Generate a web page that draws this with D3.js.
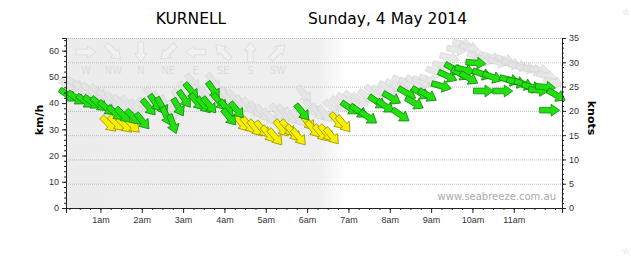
<!DOCTYPE html>
<html>
<head>
<meta charset="utf-8">
<script src="https://cdn.jsdelivr.net/npm/d3@7"></script>
<style>
  html, body { margin: 0; padding: 0; background: #fff; }
  svg { display: block; font-family: "DejaVu Sans", Verdana, sans-serif; }
  .tick text { fill: #333; font-size: 9px; }
  .domain { stroke: #222; }
</style>
</head>
<body>
<svg id="chart" width="631" height="259"></svg>
<script>
// wind observations, km/h, direction the wind comes from (deg)
const greenTimes = ['0:13','0:25','0:38','0:48','0:58','1:09','1:22','1:33','1:48','2:01','2:10','2:20','2:29','2:36','2:45','2:53','3:02','3:12','3:20','3:30','3:38','3:44','3:53','4:03','4:07','4:18',
    '5:53','7:02','7:15','7:29','7:42','7:54','8:03','8:16','8:25','8:36','8:45','8:55','9:15','9:24','9:33','9:43','9:49','9:55','10:05','10:14','10:16','10:29','10:44','10:54','11:04','11:15','11:26','11:36','11:46','11:52','12:02'];
const greenKmh = [43.0,41.9,40.7,40.3,39.6,38.1,36.2,35.4,34.6,33.1,38.4,40.0,38.8,35.0,32.0,38.4,41.5,44.6,40.4,39.2,39.2,44.9,40.4,38.1,34.6,37.3,
    36.5,38.1,36.9,34.6,40.4,38.8,41.9,35.4,43.8,40.0,43.8,43.0,46.5,50.3,53.0,51.1,52.6,49.5,55.3,51.1,44.6,49.9,44.6,48.8,48.0,47.2,46.1,44.9,46.1,37.3,43.0];
const greenDir = [305,305,305,305,310,310,310,315,315,320,320,325,330,335,340,330,325,320,320,320,320,325,320,320,320,320,
    320,305,305,305,305,305,300,305,300,300,300,300,285,295,300,300,285,300,275,290,270,290,270,285,285,290,285,275,275,270,300];

const yellowTimes = ['1:12','1:23','1:35','1:46','4:25','4:35','4:45','4:55','5:04','5:14','5:23','5:32','5:40','5:48','6:01','6:09','6:20','6:28','6:36','6:44','6:53'];
const yellowKmh = [32.0,32.3,31.6,31.6,32.3,31.6,30.4,30.0,28.1,27.0,30.4,30.4,28.5,27.0,32.7,30.0,28.5,28.5,27.4,33.1,32.0];
const yellowDir = [315,315,315,315,320,320,320,320,320,320,320,320,320,320,320,320,320,320,320,320,320];

// gusts
const gustTimes = ['0:13','0:23','0:33','0:45','0:57','1:07','1:19','1:29','1:41','1:52','2:04','2:14','2:24','2:34','2:44','2:54','3:04','3:14','3:24','3:34','3:44','3:54','4:04','4:14','4:26','4:36','4:46','4:56','5:06','5:17','5:27','5:37','5:47','5:56','6:06','6:16','6:26','6:36','6:46','6:56','7:06','7:17','7:27','7:37','7:47','7:57','8:07','8:17','8:27','8:37','8:47','8:57','9:07','9:17','9:27','9:37','9:46','9:56','10:07','10:17','10:27','10:37','10:47','10:57','11:07','11:18','11:28','11:38','11:48','11:58'];
const gustKmh = [46.5,47.2,45.8,45.0,44.2,42.3,41.1,40.0,39.6,38.1,38.8,42.6,41.1,39.2,37.3,41.9,44.9,48.0,43.8,43.0,48.0,45.0,42.6,41.9,39.6,38.8,37.3,36.1,34.6,36.5,36.1,35.0,34.2,43.4,38.1,36.5,35.8,38.1,39.6,41.1,41.9,41.1,42.6,44.2,44.2,45.8,46.5,48.0,47.2,48.0,48.0,48.8,51.9,54.2,57.3,60.4,62.6,61.1,58.0,56.5,57.3,55.7,56.5,55.0,54.2,53.4,52.6,52.6,50.3,48.0];
const gustDir = [305,305,305,305,310,310,310,315,315,320,320,325,330,335,335,325,320,320,320,320,325,320,320,320,320,320,320,320,320,320,320,320,320,320,320,320,320,315,310,305,305,305,305,305,300,300,300,300,300,300,295,290,290,285,285,280,280,285,285,285,290,285,285,285,280,280,280,280,285,285];

const compassLabels = ['W','NW','N','NE','E','SE','S','SW'];
const compassDir = [270,315,0,45,90,135,180,225];

const hourLabels = ['1am','2am','3am','4am','5am','6am','7am','8am','9am','10am','11am'];

const KMH_PER_KNOT = 1.852;

const svg = d3.select('#chart');
const plot = { left: 66, right: 562, top: 38, bottom: 208 };

const toMin = s => {
    const [h, m] = s.split(':').map(Number);
    return h * 60 + m;
};

const x = d3.scaleLinear().domain([10, 730]).range([plot.left, plot.right]);
const yKmh = d3.scaleLinear().domain([0, 35 * KMH_PER_KNOT]).range([plot.bottom, plot.top]);
const yKn = d3.scaleLinear().domain([0, 35]).range([plot.bottom, plot.top]);

// background: grey before sunrise, fading to white
const defs = svg.append('defs');
const grad = defs.append('linearGradient').attr('id', 'night').attr('x1', 0).attr('x2', 1).attr('y1', 0).attr('y2', 0);
grad.append('stop').attr('offset', 0).attr('stop-color', '#ececec');
grad.append('stop').attr('offset', 0.51).attr('stop-color', '#efefef');
grad.append('stop').attr('offset', 0.565).attr('stop-color', '#ffffff');
grad.append('stop').attr('offset', 1).attr('stop-color', '#ffffff');

svg.append('rect')
    .attr('x', plot.left).attr('y', plot.top)
    .attr('width', plot.right - plot.left).attr('height', plot.bottom - plot.top)
    .attr('fill', 'url(#night)');

// grid lines at knot ticks
svg.append('g')
    .selectAll('line')
    .data(d3.range(5, 36, 5))
    .join('line')
    .attr('x1', plot.left).attr('x2', plot.right)
    .attr('y1', d => yKn(d) + 0.5).attr('y2', d => yKn(d) + 0.5)
    .attr('stroke', '#bbb')
    .attr('stroke-dasharray', '1,1');

// compass legend
const arrowPath = 'M-10,-2.8L1.5,-2.8L1.5,-6L10,0L1.5,6L1.5,2.8L-10,2.8Z';
const legend = svg.append('g');
legend.selectAll('path')
    .data(compassDir)
    .join('path')
    .attr('d', arrowPath)
    .attr('transform', (d, i) => `translate(${86 + i * 27.4},52) rotate(${d + 90})`)
    .attr('fill', '#f1f1f1')
    .attr('stroke', '#dedede');
legend.selectAll('text')
    .data(compassLabels)
    .join('text')
    .attr('x', (d, i) => 86 + i * 27.4)
    .attr('y', 74)
    .attr('text-anchor', 'middle')
    .attr('font-size', 10)
    .attr('fill', '#dcdcdc')
    .text(d => d);

// arrows
function drawArrows(times, speeds, dirs, fill, stroke, opacity) {
    svg.append('g')
        .selectAll('path')
        .data(times.map((t, i) => ({ t: toMin(t), v: speeds[i], dir: dirs[i] })))
        .join('path')
        .attr('d', arrowPath)
        .attr('transform', d => `translate(${x(d.t)},${yKmh(d.v)}) rotate(${d.dir + 90})`)
        .attr('fill', fill)
        .attr('stroke', stroke)
        .attr('stroke-width', 0.8)
        .attr('opacity', opacity);
}

drawArrows(gustTimes, gustKmh, gustDir, '#e4e4e4', '#d4d4d4', 0.85);
drawArrows(yellowTimes, yellowKmh, yellowDir, '#f8f000', '#9c9200', 1);
drawArrows(greenTimes, greenKmh, greenDir, '#22e010', '#138a0c', 1);

// watermark
svg.append('text')
    .attr('x', plot.right - 6).attr('y', 200)
    .attr('text-anchor', 'end')
    .attr('font-size', 10)
    .attr('fill', '#aaa')
    .text('www.seabreeze.com.au');

// top border
svg.append('line')
    .attr('x1', plot.left).attr('x2', plot.right)
    .attr('y1', plot.top + 0.5).attr('y2', plot.top + 0.5)
    .attr('stroke', '#bbb').attr('stroke-dasharray', '1,1');

// axes
const leftMinor = d3.axisLeft(yKmh).tickValues(d3.range(0, 65, 2)).tickSize(2).tickFormat('');
const leftMajor = d3.axisLeft(yKmh).tickValues(d3.range(0, 61, 10)).tickSize(4).tickPadding(3);
svg.append('g').attr('transform', `translate(${plot.left},0)`).call(leftMinor);
svg.append('g').attr('transform', `translate(${plot.left},0)`).call(leftMajor);

const rightMinor = d3.axisRight(yKn).tickValues(d3.range(0, 36, 1)).tickSize(2).tickFormat('');
const rightMajor = d3.axisRight(yKn).tickValues(d3.range(0, 36, 5)).tickSize(4).tickPadding(3);
svg.append('g').attr('transform', `translate(${plot.right},0)`).call(rightMinor);
svg.append('g').attr('transform', `translate(${plot.right},0)`).call(rightMajor);

const bottomMinor = d3.axisBottom(x).tickValues(d3.range(15, 730, 15)).tickSize(2).tickFormat('');
const bottomMajor = d3.axisBottom(x).tickValues(d3.range(60, 661, 60)).tickSize(5).tickPadding(4)
    .tickFormat((d, i) => hourLabels[i]);
svg.append('g').attr('transform', `translate(0,${plot.bottom})`).call(bottomMinor);
svg.append('g').attr('transform', `translate(0,${plot.bottom})`).call(bottomMajor);

svg.selectAll('.tick line').attr('stroke', '#222');

// axis titles
svg.append('text')
    .attr('transform', 'translate(43,120) rotate(-90)')
    .attr('text-anchor', 'middle')
    .attr('font-size', 11).attr('font-weight', 'bold')
    .text('km/h');
svg.append('text')
    .attr('transform', 'translate(588,118) rotate(90)')
    .attr('text-anchor', 'middle')
    .attr('font-size', 11).attr('font-weight', 'bold')
    .text('knots');

// titles
svg.append('text')
    .attr('x', 191).attr('y', 24)
    .attr('text-anchor', 'middle')
    .attr('font-size', 15.5)
    .text('KURNELL');
svg.append('text')
    .attr('x', 308).attr('y', 24)
    .attr('font-size', 15.5)
    .text('Sunday, 4 May 2014');

// decorative stars
svg.selectAll('text.star')
    .data([[626, 15], [626, 254]])
    .join('text')
    .attr('class', 'star')
    .attr('x', d => d[0]).attr('y', d => d[1])
    .attr('text-anchor', 'middle')
    .attr('font-size', 9)
    .attr('fill', '#e6c68e')
    .text('☆');
</script>
</body>
</html>
